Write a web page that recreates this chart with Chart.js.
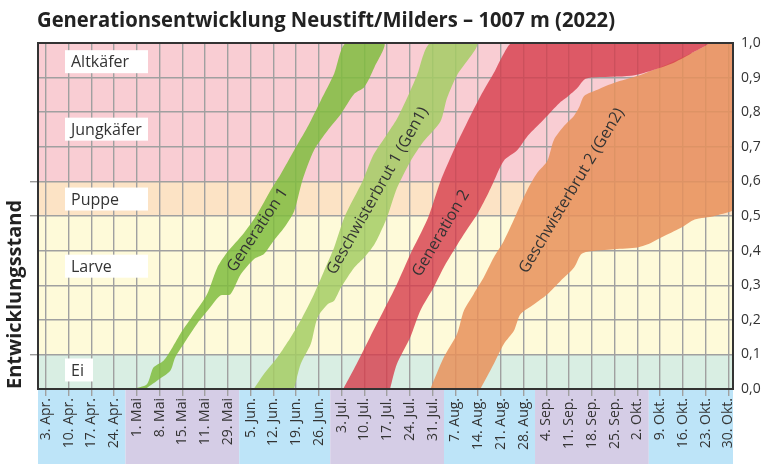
<!DOCTYPE html>
<html>
<head>
<meta charset="utf-8">
<script src="https://cdn.jsdelivr.net/npm/chart.js@4/dist/chart.umd.min.js"></script>
<style>
  html, body { margin: 0; padding: 0; background: #fff; }
  #wrap { width: 770px; height: 464px; }
</style>
</head>
<body>
<div id="wrap"><canvas id="chart" width="770" height="464"></canvas></div>
<script>
// x values are days counted from 3 Apr 2022, y values are the development stage (0..1)
const weekLabels = ["3. Apr.", "10. Apr.", "17. Apr.", "24. Apr.", "1. Mai", "8. Mai", "15. Mai", "11. Mai", "29. Mai",
    "5. Jun.", "12. Jun.", "19. Jun.", "26. Jun.", "3. Jul.", "10. Jul.", "17. Jul.", "24. Jul.", "31. Jul.",
    "7. Aug.", "14. Aug.", "21. Aug.", "28. Aug.", "4. Sep.", "11. Sep.", "18. Sep.", "25. Sep.", "2. Okt.",
    "9. Okt.", "16. Okt.", "23. Okt.", "30. Okt."];
const yTicks = [0, 0.1, 0.2, 0.3, 0.4, 0.5, 0.6, 0.7, 0.8, 0.9, 1.0];
const stageMarks = [0.1, 0.5, 0.6];
const monthBreaks = [24.5, 59.5, 87.5, 122.5, 150.5, 185.5];

const bgZones = [[0, 0.1], [0.1, 0.5], [0.5, 0.6], [0.6, 1.0]];
const stageNames = ["Ei", "Larve", "Puppe", "Jungkäfer", "Altkäfer"];
const stageLevels = [0.055, 0.355, 0.549, 0.751, 0.946];

const gen1Upper = [[26.5, 0], [31.1, 0.014], [33.1, 0.062], [36.2, 0.082], [38.3, 0.11], [41.4, 0.16], [45.5, 0.216],
    [49.6, 0.274], [52.7, 0.35], [55.8, 0.395], [60.9, 0.45], [65.0, 0.505], [69.2, 0.575], [72.2, 0.62],
    [76.4, 0.69], [80.5, 0.757], [84.6, 0.834], [88.7, 0.911], [92.3, 1.0]];
const gen1Lower = [[30.6, 0], [34.2, 0.024], [38.3, 0.053], [39.8, 0.091], [42.4, 0.13], [46.5, 0.188], [50.6, 0.236],
    [53.7, 0.27], [56.8, 0.274], [59.9, 0.33], [64.0, 0.375], [67.1, 0.39], [70.2, 0.43], [73.3, 0.466],
    [76.4, 0.514], [78.9, 0.602], [82.5, 0.69], [86.7, 0.747], [90.8, 0.795], [94.9, 0.853], [98.0, 0.873],
    [101.1, 0.93], [104.1, 1.0]];

const sib1Upper = [[64.0, 0], [67.1, 0.043], [71.2, 0.091], [75.3, 0.149], [78.9, 0.207], [82.5, 0.274], [85.6, 0.341],
    [88.7, 0.409], [92.0, 0.5], [97.4, 0.6], [100.8, 0.677], [104.9, 0.735], [108.0, 0.78], [111.1, 0.84],
    [114.2, 0.907], [118.3, 1.0]];
const sib1Lower = [[76.4, 0], [78.4, 0.072], [81.5, 0.13], [83.6, 0.207], [86.7, 0.245], [88.7, 0.255], [90.8, 0.293],
    [94.9, 0.351], [98.0, 0.38], [101.1, 0.418], [104.1, 0.476], [105.5, 0.51], [108.0, 0.58], [112.1, 0.657],
    [116.2, 0.715], [121.4, 0.773], [123.4, 0.84], [126.5, 0.907], [132.7, 1.0]];

const gen2Upper = [[91.5, 0], [95.6, 0.072], [99.7, 0.149], [103.9, 0.226], [108.0, 0.303], [112.1, 0.389],
    [115.2, 0.447], [117.8, 0.5], [121.4, 0.6], [125.5, 0.69], [129.6, 0.77], [133.7, 0.846], [137.8, 0.913],
    [140.9, 0.97], [143.5, 1.0]];
const gen2Lower = [[105.9, 0], [108.0, 0.072], [112.1, 0.149], [115.2, 0.226], [119.3, 0.293], [122.4, 0.351],
    [125.5, 0.4], [128.6, 0.447], [132.7, 0.505], [135.8, 0.56], [137.8, 0.6], [140.9, 0.66], [145.0, 0.69],
    [148.1, 0.73], [151.2, 0.76], [154.3, 0.79], [158.4, 0.83], [160.5, 0.845], [163.5, 0.87], [165.6, 0.894],
    [167.7, 0.9], [180.0, 0.905], [186.2, 0.92], [192.4, 0.94], [198.5, 0.97], [203.7, 1.0]];

const sib2Upper = [[118.3, 0], [122.4, 0.091], [126.5, 0.159], [128.6, 0.226], [131.6, 0.274], [134.7, 0.322],
    [137.8, 0.38], [140.9, 0.428], [144.5, 0.5], [148.1, 0.575], [151.2, 0.625], [154.3, 0.66], [156.3, 0.72],
    [159.4, 0.76], [162.5, 0.79], [164.1, 0.815], [165.6, 0.847], [169.7, 0.865], [174.9, 0.885], [182.1, 0.905],
    [190.3, 0.935], [196.5, 0.962], [201.6, 0.985], [204.7, 1.0], [213, 1.0]];
const sib2Lower = [[133.7, 0], [137.8, 0.072], [140.9, 0.13], [144.0, 0.168], [146.0, 0.216], [150.2, 0.245],
    [154.3, 0.274], [158.4, 0.313], [162.5, 0.351], [164.6, 0.389], [166.6, 0.397], [174.9, 0.404], [182.1, 0.409],
    [185.2, 0.418], [189.3, 0.438], [195.4, 0.466], [199.6, 0.49], [205.7, 0.5], [213, 0.53]];

const TEXT = "#333";
const GRID = "#a0a0a0";
const zoneColors = ["#d9eee3", "#fefad9", "#fce3c5", "#f9cdd3"];
const monthColors = ["#bde4f8", "#d5cde6"];
const stageBoxWidth = [28, 83, 83, 83, 83];

// turn lower/upper edges into one closed outline
function band(upper, lower) {
    return upper.concat(lower.slice().reverse()).map(([x, y]) => ({ x, y }));
}

const bandLabels = [
    { text: "Generation 1", x: 65.2, y: 0.46, angle: -56.5 },
    { text: "Geschwisterbrut 1 (Gen1)", x: 102.1, y: 0.573, angle: -60.5 },
    { text: "Generation 2", x: 121.6, y: 0.45, angle: -59.5 },
    { text: "Geschwisterbrut 2 (Gen2)", x: 161.8, y: 0.573, angle: -59 }
];

const decor = {
    id: "decor",
    beforeDraw(chart) {
        const { ctx, chartArea: a, scales: { x, y } } = chart;
        ctx.save();
        bgZones.forEach((z, i) => {
            const top = y.getPixelForValue(z[1]);
            const bot = y.getPixelForValue(z[0]);
            ctx.fillStyle = zoneColors[i];
            ctx.fillRect(a.left, top, a.width, bot - top);
        });
        const edges = [x.min].concat(monthBreaks, [x.max]);
        for (let i = 0; i < edges.length - 1; i++) {
            const l = x.getPixelForValue(edges[i]);
            const r = x.getPixelForValue(edges[i + 1]);
            ctx.fillStyle = monthColors[i % 2];
            ctx.fillRect(l, a.bottom, r - l, chart.height - a.bottom);
        }
        // title, squeezed a little to the original's width
        const title = "Generationsentwicklung Neustift/Milders – 1007 m (2022)";
        ctx.font = "bold 22px 'Open Sans'";
        ctx.fillStyle = "#222";
        ctx.textBaseline = "alphabetic";
        const w = ctx.measureText(title).width;
        ctx.translate(37, 27);
        ctx.scale(Math.min(1, 578 / w), 1);
        ctx.fillText(title, 0, 0);
        ctx.restore();
    },
    beforeDatasetsDraw(chart) {
        const { ctx, chartArea: a, scales: { y } } = chart;
        ctx.save();
        ctx.font = "16px 'Open Sans'";
        ctx.textBaseline = "middle";
        stageNames.forEach((name, i) => {
            const cy = y.getPixelForValue(stageLevels[i]);
            ctx.fillStyle = "#fff";
            ctx.fillRect(a.left + 27, cy - 11.5, stageBoxWidth[i], 23);
            ctx.fillStyle = TEXT;
            ctx.fillText(name, a.left + 33, cy + 1);
        });
        ctx.restore();
    },
    afterDatasetsDraw(chart) {
        const { ctx, chartArea: a, scales: { x, y } } = chart;
        ctx.save();
        ctx.font = "16px 'Open Sans'";
        ctx.fillStyle = TEXT;
        ctx.textAlign = "center";
        ctx.textBaseline = "middle";
        bandLabels.forEach(l => {
            ctx.save();
            ctx.translate(x.getPixelForValue(l.x), y.getPixelForValue(l.y));
            ctx.rotate(l.angle * Math.PI / 180);
            ctx.fillText(l.text, 0, 0);
            ctx.restore();
        });
        ctx.strokeStyle = "#333";
        ctx.lineWidth = 2;
        ctx.strokeRect(a.left, a.top, a.width, a.height);
        ctx.restore();
    }
};

Chart.defaults.font.family = "'Open Sans', sans-serif";
Chart.defaults.color = TEXT;

const datasets = [
    { label: "Generation 1", data: band(gen1Upper, gen1Lower), backgroundColor: "rgba(128,188,62,0.85)" },
    { label: "Geschwisterbrut 1 (Gen1)", data: band(sib1Upper, sib1Lower), backgroundColor: "rgba(165,205,100,0.85)" },
    { label: "Generation 2", data: band(gen2Upper, gen2Lower), backgroundColor: "rgba(214,60,75,0.8)" },
    { label: "Geschwisterbrut 2 (Gen2)", data: band(sib2Upper, sib2Lower), backgroundColor: "rgba(232,145,90,0.85)" }
].map(d => Object.assign(d, { fill: "shape", borderWidth: 0, borderColor: "transparent", pointRadius: 0, tension: 0.25 }));

new Chart(document.getElementById("chart"), {
    type: "line",
    data: { datasets },
    plugins: [decor],
    options: {
        responsive: false,
        animation: false,
        events: [],
        layout: { padding: { top: 43, left: 0, right: 0, bottom: 0 } },
        plugins: {
            legend: { display: false },
            tooltip: { enabled: false }
        },
        scales: {
            x: {
                type: "linear",
                min: -2.4,
                max: 211.4,
                afterBuildTicks: s => { s.ticks = weekLabels.map((_, i) => ({ value: i * 7 })); },
                afterFit: s => { s.height = 75; s.paddingLeft = 0; s.paddingRight = 0; },
                ticks: {
                    autoSkip: false,
                    maxRotation: 90,
                    minRotation: 90,
                    padding: 2,
                    font: { size: 14 },
                    color: TEXT,
                    callback: (v, i) => weekLabels[i]
                },
                grid: { color: GRID, lineWidth: 1.4, tickLength: 7 },
                border: { display: false }
            },
            yl: {
                position: "left",
                min: 0,
                max: 1,
                afterBuildTicks: s => { s.ticks = stageMarks.map(v => ({ value: v })); },
                afterFit: s => { s.width = 38; s.paddingTop = 0; s.paddingBottom = 0; },
                ticks: { display: false },
                grid: { drawOnChartArea: false, color: "#999", lineWidth: 1.4, tickLength: 8 },
                border: { display: false },
                title: {
                    display: true,
                    text: "Entwicklungsstand",
                    align: "start",
                    color: "#222",
                    font: { size: 20, weight: "bold" },
                    padding: { top: 3, bottom: 0 }
                }
            },
            y: {
                position: "right",
                min: 0,
                max: 1,
                afterBuildTicks: s => { s.ticks = yTicks.map(v => ({ value: v })); },
                afterFit: s => { s.width = 37; s.paddingTop = 0; s.paddingBottom = 0; },
                ticks: {
                    padding: 8,
                    font: { size: 14 },
                    color: TEXT,
                    callback: v => v.toFixed(1).replace(".", ",")
                },
                grid: { color: GRID, lineWidth: 1.4, drawTicks: false },
                border: { display: false }
            }
        }
    }
});
</script>
</body>
</html>
